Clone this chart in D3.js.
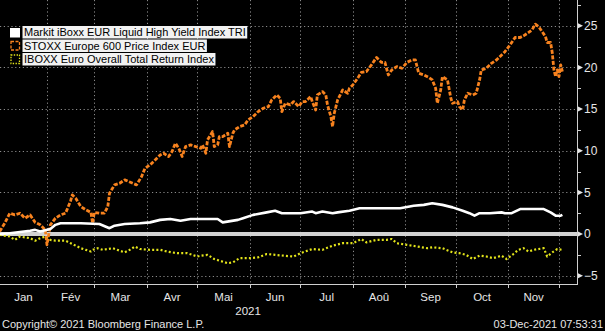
<!DOCTYPE html>
<html>
<head>
<meta charset="utf-8">
<script src="https://cdn.jsdelivr.net/npm/d3@7"></script>
<style>
  html, body { margin: 0; padding: 0; background: #000; }
  svg { display: block; }
  text { font-family: "Liberation Sans", Arial, sans-serif; }
</style>
</head>
<body>
<svg id="chart" width="605" height="331"></svg>
<script>
// Year-to-date performance, % change since 31-Dec-2020 (dates are MM-DD of 2021)

const seriesNames = [
  "Markit iBoxx EUR Liquid High Yield Index TRI",
  "STOXX Europe 600 Price Index EUR",
  "IBOXX Euro Overall Total Return Index"
];

const monthLabels = ["Jan", "Fév", "Mar", "Avr", "Mai", "Jun", "Jul", "Aoû", "Sep", "Oct", "Nov"];
const yearLabel = "2021";
const yTicks = [-5, 0, 5, 10, 15, 20, 25];
const yMinorTicks = [-2.5, 2.5, 7.5, 12.5, 17.5, 22.5, 27.5];

// Markit iBoxx EUR Liquid High Yield Index TRI
const hyDates = ["01-04","01-10","01-22","01-25","01-28","02-03","02-06","02-09","02-21","03-04",
  "03-10","03-13","03-19","03-28","04-03","04-09","04-15","04-21","04-27","05-03",
  "05-13","05-16","05-25","05-28","06-03","06-11","06-16","06-20","07-01","07-08",
  "07-10","07-14","07-20","07-23","07-30","08-05","08-13","08-29","09-06","09-12",
  "09-17","09-23","09-29","10-05","10-09","10-12","10-15","10-21","10-28","10-30",
  "11-03","11-08","11-18","11-22","11-26","11-29","12-02","12-03"];
const hyValues = [0.0, 0.1, 0.4, 0.5, 0.3, 0.6, 1.1, 1.3, 1.3, 1.2,
  0.7, 1.0, 1.2, 1.3, 1.4, 1.7, 1.8, 1.6, 1.8, 1.8,
  1.8, 1.4, 1.7, 1.9, 2.3, 2.6, 2.8, 2.5, 2.5, 2.7,
  2.5, 2.7, 2.5, 2.6, 2.8, 3.1, 3.1, 3.1, 3.4, 3.5,
  3.7, 3.5, 3.2, 2.8, 2.5, 2.2, 2.5, 2.5, 2.6, 2.5,
  2.5, 3.0, 3.0, 3.0, 2.6, 2.2, 2.2, 2.3];

// STOXX Europe 600 Price Index EUR
const sxDates = ["01-04","01-07","01-10","01-13","01-16","01-19","01-22","01-25","01-28","01-31",
  "02-01","02-03","02-06","02-09","02-12","02-15","02-16","02-18","02-21","02-24",
  "02-27","02-28","03-01","03-04","03-07","03-09","03-10","03-13","03-16","03-19",
  "03-22","03-26","03-29","03-31","04-03","04-06","04-09","04-11","04-14","04-16",
  "04-18","04-20","04-22","04-24","04-27","04-30","05-03","05-04","05-06","05-07",
  "05-10","05-11","05-13","05-14","05-16","05-19","05-20","05-22","05-23","05-26",
  "05-29","05-31","06-03","06-06","06-09","06-12","06-14","06-17","06-19","06-20",
  "06-22","06-25","06-27","06-30","07-02","07-04","07-07","07-08","07-10","07-11",
  "07-14","07-16","07-17","07-19","07-20","07-21","07-23","07-26","07-29","07-30",
  "08-01","08-04","08-06","08-09","08-12","08-15","08-18","08-20","08-22","08-24",
  "08-27","08-30","09-02","09-05","09-07","09-09","09-12","09-15","09-17","09-19",
  "09-20","09-22","09-23","09-26","09-28","09-29","10-02","10-03","10-05","10-06",
  "10-08","10-11","10-13","10-15","10-16","10-19","10-22","10-25","10-27","10-30",
  "11-02","11-05","11-08","11-10","11-13","11-15","11-17","11-19","11-21","11-23",
  "11-24","11-26","11-27","11-28","11-29","11-30","12-01","12-02","12-03"];
const sxValues = [0.3, 1.3, 2.5, 2.3, 2.5, 1.9, 2.3, 1.4, 1.1, 0.5,
  -1.3, 1.1, 1.9, 2.3, 2.5, 4.0, 4.7, 4.3, 3.3, 2.9,
  2.6, 1.3, 2.6, 2.5, 2.5, 3.3, 4.9, 5.9, 6.1, 6.5,
  6.25, 5.9, 6.9, 7.9, 8.3, 8.9, 9.5, 9.7, 9.3, 9.9,
  10.9, 10.3, 9.3, 10.5, 10.7, 10.5, 10.3, 10.7, 9.7, 11.3,
  12.3, 10.5, 10.7, 11.7, 11.7, 12.1, 10.5, 12.1, 12.5, 12.9,
  13.1, 13.7, 14.1, 14.7, 15.1, 15.3, 16.1, 16.7, 16.3, 14.7,
  15.7, 15.5, 15.9, 15.3, 15.9, 15.9, 16.5, 15.9, 14.9, 16.7,
  17.1, 16.7, 15.5, 14.1, 12.9, 14.5, 16.1, 17.3, 16.9, 17.5,
  17.9, 18.75, 19.4, 19.5, 20.3, 21.2, 20.6, 20.6, 19.1, 19.7,
  20.1, 19.9, 20.6, 20.9, 20.9, 19.3, 19.1, 18.8, 18.5, 17.5,
  15.7, 17.3, 18.9, 18.5, 16.3, 15.7, 15.9, 15.3, 14.9, 16.1,
  16.9, 16.7, 16.9, 18.5, 19.7, 19.9, 20.5, 20.9, 21.3, 21.9,
  22.7, 23.6, 23.6, 23.8, 24.2, 24.5, 25.2, 24.9, 24.3, 23.7,
  23.0, 23.0, 21.8, 19.7, 18.9, 19.7, 18.9, 20.3, 19.5];

// IBOXX Euro Overall Total Return Index
const igDates = ["01-04","01-10","01-13","01-16","01-22","01-25","01-28","01-31","02-03","02-06",
  "02-12","02-15","02-18","02-21","02-24","02-27","02-28","03-03","03-06","03-09",
  "03-12","03-16","03-19","03-22","03-25","03-28","04-03","04-09","04-13","04-19",
  "04-25","05-01","05-03","05-07","05-11","05-19","05-22","05-26","06-01","06-06",
  "06-11","06-16","06-21","06-27","07-01","07-08","07-14","07-20","07-26","08-01",
  "08-06","08-09","08-15","08-21","08-24","08-27","09-02","09-08","09-14","09-17",
  "09-23","09-29","10-03","10-07","10-11","10-15","10-19","10-23","10-28","10-31",
  "11-04","11-07","11-10","11-13","11-16","11-22","11-24","11-27","11-30","12-03"];
const igValues = [-0.1, -0.3, -0.7, -0.3, -0.5, -0.8, -0.5, -0.3, -0.7, -0.8,
  -0.8, -1.1, -1.4, -1.7, -1.9, -2.1, -1.9, -1.7, -1.9, -1.8,
  -1.7, -2.0, -2.2, -1.9, -1.5, -1.8, -1.9, -1.9, -2.1, -2.3,
  -2.3, -2.7, -2.6, -2.5, -3.0, -3.5, -3.4, -2.9, -2.9, -2.8,
  -2.4, -2.5, -2.6, -2.7, -2.3, -1.8, -1.9, -1.4, -1.1, -1.1,
  -0.6, -1.0, -0.7, -0.7, -0.6, -1.1, -1.3, -1.5, -1.7, -1.6,
  -1.7, -2.2, -2.3, -2.5, -3.0, -2.6, -2.7, -2.9, -2.6, -3.0,
  -2.4, -1.9, -1.7, -2.1, -1.9, -1.7, -2.7, -2.2, -1.8, -1.9];

const W = 605, H = 331;
const plotRight = 577, plotBottom = 284;

const parseDay = d3.timeParse("%Y-%m-%d");
const toPoints = (dates, values) => dates.map((d, i) => ({ date: parseDay("2021-" + d), value: values[i] }));

const series = [
  { name: seriesNames[0], points: toPoints(hyDates, hyValues), color: "#ffffff", width: 2.6, dash: null },
  { name: seriesNames[1], points: toPoints(sxDates, sxValues), color: "#f7821e", width: 2.8, dash: "4,1.6" },
  { name: seriesNames[2], points: toPoints(igDates, igValues), color: "#e3e41a", width: 2.2, dash: "2,2.2" }
];

const x = d3.scaleTime()
  .domain([new Date(2021, 0, 1), new Date(2021, 11, 1)])
  .range([-5.4, 559]);
const y = d3.scaleLinear().domain([-6, 28.1]).range([plotBottom, 0]);

const svg = d3.select("#chart");
svg.append("rect").attr("width", W).attr("height", H).attr("fill", "#000");

svg.append("defs").append("clipPath").attr("id", "plot-clip")
  .append("rect").attr("x", 0).attr("y", 0).attr("width", plotRight).attr("height", plotBottom);

// Grid
const monthStarts = d3.timeMonth.range(new Date(2021, 1, 1), new Date(2021, 11, 2));
const grid = svg.append("g").attr("stroke", "#8a8a8a").attr("stroke-width", 1).attr("stroke-dasharray", "1.2,2.6");
grid.selectAll("line.v").data(monthStarts).join("line")
  .attr("class", "v")
  .attr("x1", d => Math.round(x(d)) + 0.5).attr("x2", d => Math.round(x(d)) + 0.5)
  .attr("y1", 0).attr("y2", plotBottom);
grid.selectAll("line.h").data(yTicks.filter(v => v !== 0)).join("line")
  .attr("class", "h")
  .attr("x1", 0).attr("x2", plotRight)
  .attr("y1", d => Math.round(y(d)) + 0.5).attr("y2", d => Math.round(y(d)) + 0.5);

// Zero line
svg.append("line")
  .attr("x1", 0).attr("x2", plotRight)
  .attr("y1", y(0)).attr("y2", y(0))
  .attr("stroke", "#d2d2d2").attr("stroke-width", 4);

// Series lines
const line = d3.line().x(d => x(d.date)).y(d => y(d.value));
const lines = svg.append("g").attr("clip-path", "url(#plot-clip)");
lines.selectAll("path").data(series.slice().reverse()).join("path")
  .attr("d", d => line(d.points))
  .attr("fill", "none")
  .attr("stroke", d => d.color)
  .attr("stroke-width", d => d.width)
  .attr("stroke-dasharray", d => d.dash)
  .attr("stroke-linejoin", "round");

// Bottom axis
const xAxisG = svg.append("g").attr("transform", `translate(0,${plotBottom})`);
xAxisG.append("line").attr("x1", 0).attr("x2", plotRight).attr("y1", 0.5).attr("y2", 0.5)
  .attr("stroke", "#cfcfcf").attr("stroke-width", 1);
xAxisG.selectAll("line.tick").data(monthStarts).join("line")
  .attr("class", "tick")
  .attr("x1", d => Math.round(x(d)) + 0.5).attr("x2", d => Math.round(x(d)) + 0.5)
  .attr("y1", 0).attr("y2", 4)
  .attr("stroke", "#cfcfcf");
const monthCenters = monthLabels.map((m, i) => {
  const a = Math.max(0, x(new Date(2021, i, 1)));
  const b = x(new Date(2021, i + 1, 1));
  return { label: m, cx: (a + b) / 2 };
});
xAxisG.selectAll("text.month").data(monthCenters).join("text")
  .attr("class", "month")
  .attr("x", d => d.cx).attr("y", 17)
  .attr("text-anchor", "middle")
  .attr("fill", "#e6e6e6").attr("font-size", 11.5)
  .text(d => d.label);
xAxisG.append("text")
  .attr("x", (x(new Date(2021, 5, 1)) + x(new Date(2021, 6, 1))) / 2 - 27)
  .attr("y", 31)
  .attr("text-anchor", "middle")
  .attr("fill", "#e6e6e6").attr("font-size", 11.5)
  .text(yearLabel);

// Right axis
const yAxisG = svg.append("g").attr("transform", `translate(${plotRight},0)`);
yAxisG.call(d3.axisRight(y).tickValues(yTicks).tickSize(0).tickPadding(7).tickFormat(d3.format("d")));
yAxisG.select(".domain").remove();
yAxisG.selectAll("text").attr("fill", "#e6e6e6").attr("font-size", 12)
  .attr("font-family", "\"Liberation Sans\", Arial, sans-serif");
yAxisG.append("line").attr("x1", 0.5).attr("x2", 0.5).attr("y1", 0).attr("y2", plotBottom + 1)
  .attr("stroke", "#cfcfcf");
yAxisG.selectAll("path.marker").data(yTicks).join("path")
  .attr("class", "marker")
  .attr("d", d => `M1,${y(d) - 2.5}L6,${y(d)}L1,${y(d) + 2.5}Z`)
  .attr("fill", "#e6e6e6");
yAxisG.selectAll("line.minor").data(yMinorTicks).join("line")
  .attr("class", "minor")
  .attr("x1", 1).attr("x2", 4)
  .attr("y1", d => Math.round(y(d)) + 0.5).attr("y2", d => Math.round(y(d)) + 0.5)
  .attr("stroke", "#cfcfcf");

// Legend
const legendRows = [26, 39.5, 53];
const legend = svg.append("g");
series.forEach((s, i) => {
  const top = legendRows[i];
  const g = legend.append("g");
  const bg = g.append("rect").attr("x", 22.5).attr("y", top).attr("height", 12.5).attr("fill", "#f2f2f2");
  const t = g.append("text").attr("x", 24).attr("y", top + 10.3)
    .attr("fill", "#000").attr("font-size", 11).text(s.name);
  bg.attr("width", t.node().getComputedTextLength() + 3);
  if (i === 0) {
    g.append("rect").attr("x", 10).attr("y", top + 2).attr("width", 10).attr("height", 9.5).attr("fill", s.color);
  } else {
    g.append("rect").attr("x", 11).attr("y", top + 2).attr("width", 8.5).attr("height", 8.5)
      .attr("fill", "none").attr("stroke", s.color).attr("stroke-width", 1.3)
      .attr("stroke-dasharray", i === 1 ? "3,1.5" : "1.4,1.4");
  }
});

// Footer
svg.append("text").attr("x", 2).attr("y", 328)
  .attr("fill", "#e6e6e6").attr("font-size", 11)
  .text("Copyright© 2021 Bloomberg Finance L.P.");
svg.append("text").attr("x", 603).attr("y", 328).attr("text-anchor", "end")
  .attr("fill", "#e6e6e6").attr("font-size", 11)
  .text("03-Dec-2021 07:53:31");
</script>
</body>
</html>
